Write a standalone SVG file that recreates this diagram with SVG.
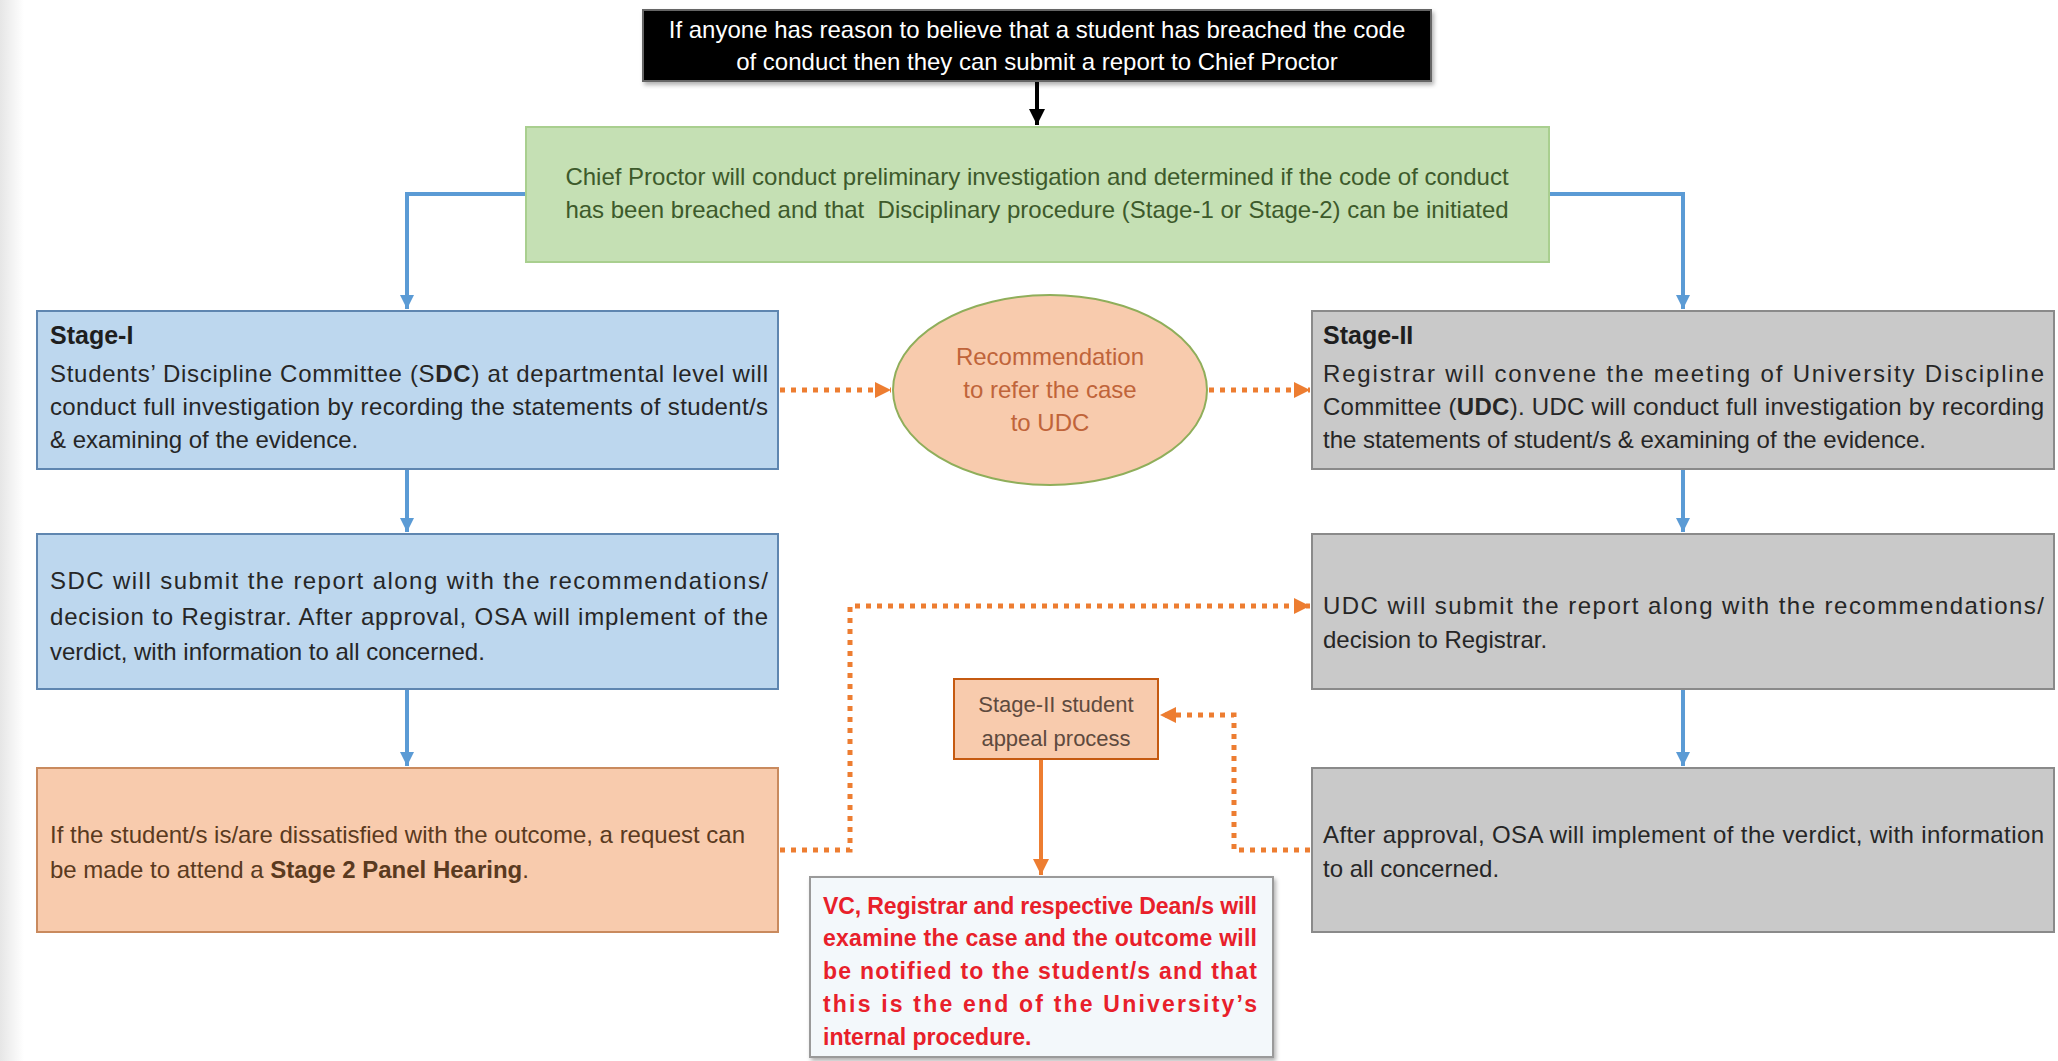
<svg xmlns="http://www.w3.org/2000/svg" width="2058" height="1061" viewBox="0 0 2058 1061">
<style>
  text { font-family: "Liberation Sans", Arial, sans-serif; font-size: 24px; }
  .b { font-weight: bold; }
  .title { font-weight: bold; font-size: 25px; fill: #1e1e1e; }
  .dark { fill: #262626; }
  .red { font-weight: bold; font-size: 23px; fill: #e8202a; }
  .sm { font-size: 22px; }
  .blue { fill: #bdd7ee; stroke: #5f86b0; stroke-width: 2; }
  .gray { fill: #c9c9c9; stroke: #8a8a8a; stroke-width: 2; }
  .peach { fill: #f8cbad; stroke: #c98a5e; stroke-width: 2; }
  .bluel { fill: none; stroke: #5b9bd5; stroke-width: 4; }
  .dot { fill: none; stroke: #ed7d31; stroke-width: 5; stroke-dasharray: 5 6; }
  .sol { fill: none; stroke: #ed7d31; stroke-width: 4; }
  .c { text-anchor: middle; }
</style>
<defs>
  <linearGradient id="edge" x1="0" y1="0" x2="1" y2="0">
    <stop offset="0" stop-color="#e6e6e6"/>
    <stop offset="1" stop-color="#ffffff"/>
  </linearGradient>
  <marker id="ab" markerUnits="userSpaceOnUse" markerWidth="16" markerHeight="16" refX="14" refY="8" orient="auto">
    <path d="M0,1 L14,8 L0,15 z" fill="#5b9bd5"/>
  </marker>
  <marker id="ao" markerUnits="userSpaceOnUse" markerWidth="18" markerHeight="18" refX="16" refY="9" orient="auto">
    <path d="M0,1 L16,9 L0,17 z" fill="#ed7d31"/>
  </marker>
  <marker id="ak" markerUnits="userSpaceOnUse" markerWidth="18" markerHeight="18" refX="16" refY="9" orient="auto">
    <path d="M0,1 L16,9 L0,17 z" fill="#000"/>
  </marker>
  <filter id="sh" x="-5%" y="-5%" width="110%" height="115%">
    <feDropShadow dx="2" dy="3" stdDeviation="2" flood-color="#000" flood-opacity="0.3"/>
  </filter>
</defs>
<rect x="0" y="0" width="2058" height="1061" fill="#ffffff"/>
<rect x="0" y="0" width="24" height="1061" fill="url(#edge)"/>

<g id="connectors">
  <path class="bluel" d="M526,194 H407 V309" marker-end="url(#ab)"/>
  <path class="bluel" d="M1549,194 H1683 V309" marker-end="url(#ab)"/>
  <path class="bluel" d="M407,469 V532" marker-end="url(#ab)"/>
  <path class="bluel" d="M407,689 V766" marker-end="url(#ab)"/>
  <path class="bluel" d="M1683,469 V532" marker-end="url(#ab)"/>
  <path class="bluel" d="M1683,689 V766" marker-end="url(#ab)"/>
  <path d="M1037,81 V125" fill="none" stroke="#000" stroke-width="4" marker-end="url(#ak)"/>
  <path class="dot" d="M780,390 H891" marker-end="url(#ao)"/>
  <path class="dot" d="M1209,390 H1310" marker-end="url(#ao)"/>
  <path class="dot" d="M780,850 H850 V606 H1310" marker-end="url(#ao)"/>
  <path class="dot" d="M1310,850 H1234 V715 H1160" marker-end="url(#ao)"/>
  <path class="sol" d="M1041,760 V875" marker-end="url(#ao)"/>
</g>

<g id="report">
  <rect x="643" y="10" width="788" height="71" fill="#000" stroke="#666" stroke-width="2" filter="url(#sh)"/>
  <text class="c" x="1037" y="38" fill="#fff">If anyone has reason to believe that a student has breached the code</text>
  <text class="c" x="1037" y="70" fill="#fff">of conduct then they can submit a report to Chief Proctor</text>
</g>

<g id="chief-proctor">
  <rect x="526" y="127" width="1023" height="135" fill="#c5e0b4" stroke="#a9cf8f" stroke-width="2"/>
  <text class="c" x="1037" y="185" fill="#3d5a2b">Chief Proctor will conduct preliminary investigation and determined if the code of conduct</text>
  <text class="c" x="1037" y="218" fill="#3d5a2b" xml:space="preserve">has been breached and that  Disciplinary procedure (Stage-1 or Stage-2) can be initiated</text>
</g>

<g id="stage1">
  <rect class="blue" x="37" y="311" width="741" height="158"/>
  <text class="title" x="50" y="344">Stage-I</text>
  <text class="dark" x="50" y="382" textLength="718">Students’ Discipline Committee (S<tspan class="b">DC</tspan>) at departmental level will</text>
  <text class="dark" x="50" y="415" textLength="718">conduct full investigation by recording the statements of student/s</text>
  <text class="dark" x="50" y="448">&amp; examining of the evidence.</text>
</g>

<g id="recommendation">
  <ellipse cx="1050" cy="390" rx="157" ry="95" fill="#f8cbad" stroke="#8fae5a" stroke-width="2"/>
  <text class="c" x="1050" y="365" fill="#c0643a">Recommendation</text>
  <text class="c" x="1050" y="398" fill="#c0643a">to refer the case</text>
  <text class="c" x="1050" y="431" fill="#c0643a">to UDC</text>
</g>

<g id="stage2">
  <rect class="gray" x="1312" y="311" width="742" height="158"/>
  <text class="title" x="1323" y="344">Stage-II</text>
  <text class="dark" x="1323" y="382" textLength="721">Registrar will convene the meeting of University Discipline</text>
  <text class="dark" x="1323" y="415" textLength="721">Committee (<tspan class="b">UDC</tspan>). UDC will conduct full investigation by recording</text>
  <text class="dark" x="1323" y="448">the statements of student/s &amp; examining of the evidence.</text>
</g>

<g id="sdc-report">
  <rect class="blue" x="37" y="534" width="741" height="155"/>
  <text class="dark" x="50" y="589" textLength="718">SDC will submit the report along with the recommendations/</text>
  <text class="dark" x="50" y="625" textLength="718">decision to Registrar. After approval, OSA will implement of the</text>
  <text class="dark" x="50" y="660">verdict, with information to all concerned.</text>
</g>

<g id="udc-report">
  <rect class="gray" x="1312" y="534" width="742" height="155"/>
  <text class="dark" x="1323" y="614" textLength="721">UDC will submit the report along with the recommendations/</text>
  <text class="dark" x="1323" y="648">decision to Registrar.</text>
</g>

<g id="dissatisfied">
  <rect class="peach" x="37" y="768" width="741" height="164"/>
  <text x="50" y="843" fill="#5a3a20">If the student/s is/are dissatisfied with the outcome, a request can</text>
  <text x="50" y="878" fill="#5a3a20">be made to attend a <tspan class="b">Stage 2 Panel Hearing</tspan>.</text>
</g>

<g id="osa">
  <rect class="gray" x="1312" y="768" width="742" height="164"/>
  <text class="dark" x="1323" y="843" textLength="721">After approval, OSA will implement of the verdict, with information</text>
  <text class="dark" x="1323" y="877">to all concerned.</text>
</g>

<g id="appeal">
  <rect x="954" y="679" width="204" height="80" fill="#f8cbad" stroke="#c55a11" stroke-width="2"/>
  <text class="c sm" x="1056" y="712" fill="#5e4a3e">Stage-II student</text>
  <text class="c sm" x="1056" y="746" fill="#5e4a3e">appeal process</text>
</g>

<g id="final">
  <rect x="810" y="877" width="463" height="180" fill="#f3f8fb" stroke="#9a9a9a" stroke-width="2" filter="url(#sh)"/>
  <text class="red" x="823" y="914" textLength="434">VC, Registrar and respective Dean/s will</text>
  <text class="red" x="823" y="946" textLength="434">examine the case and the outcome will</text>
  <text class="red" x="823" y="979" textLength="434">be notified to the student/s and that</text>
  <text class="red" x="823" y="1012" textLength="434">this is the end of the University’s</text>
  <text class="red" x="823" y="1045">internal procedure.</text>
</g>
</svg>
